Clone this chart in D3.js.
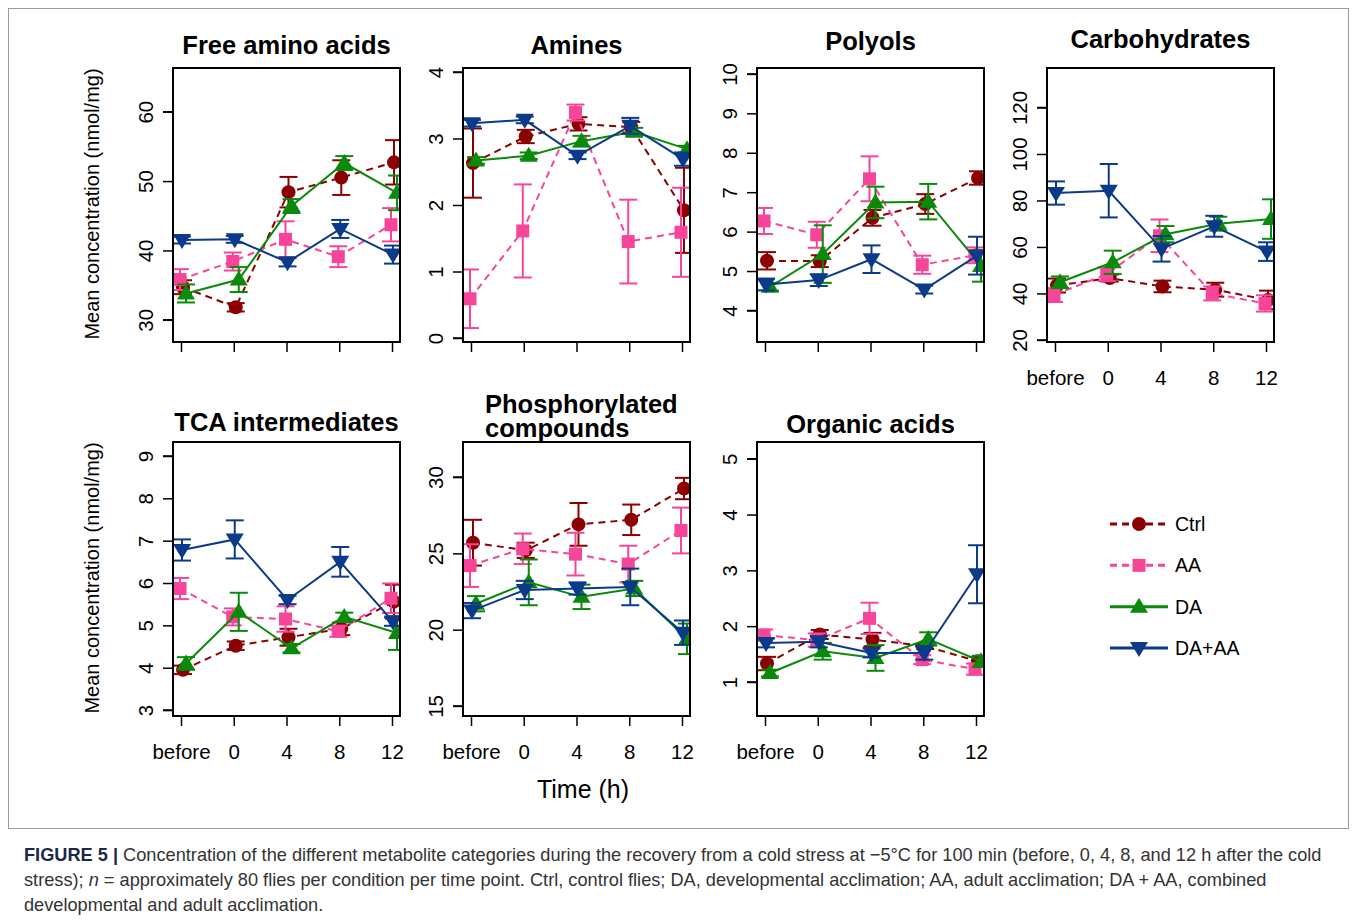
<!DOCTYPE html>
<html><head><meta charset="utf-8">
<script src="https://cdn.jsdelivr.net/npm/d3@7"></script>
<style>body{margin:0;background:#fff;font-family:"Liberation Sans",Arial,sans-serif;}</style>
</head><body><svg id="fig" width="1357" height="922"></svg>
<script>
const timePoints = ['before', '0', '4', '8', '12'];
const groups = ['Ctrl', 'AA', 'DA', 'DA+AA'];
const groupColors = ['#8b0000', '#f7459a', '#0a8a0a', '#0b3a8a'];

// mean values per group (Ctrl, AA, DA, DA+AA), then error half-widths
const aminoMean = [[34.7, 31.8, 48.4, 50.5, 52.7], [35.8, 38.4, 41.6, 39.1, 43.7], [33.8, 35.8, 46.4, 52.6, 48.3], [41.5, 41.6, 38.3, 43.1, 39.4]];
const aminoErr = [[1, 0.6, 2.2, 2.5, 3.2], [1.5, 1.3, 2.6, 1.5, 2.4], [1.3, 1.8, 1, 1, 2.5], [0.5, 0.5, 0.6, 1.3, 1.3]];
const amineMean = [[2.63, 3.03, 3.22, 3.17, 1.92], [0.59, 1.61, 3.39, 1.45, 1.59], [2.67, 2.74, 2.96, 3.1, 2.84], [3.23, 3.28, 2.74, 3.19, 2.69]];
const amineErr = [[0.52, 0.1, 0.1, 0.08, 0.64], [0.44, 0.7, 0.12, 0.63, 0.67], [0.05, 0.05, 0.08, 0.06, 0.05], [0.05, 0.05, 0.05, 0.12, 0.1]];
const polyolMean = [[5.26, 5.25, 6.35, 6.7, 7.36], [6.27, 5.92, 7.34, 5.16, 5.4], [4.6, 5.43, 6.74, 6.76, 5.13], [4.66, 4.77, 5.3, 4.53, 5.39]];
const polyolErr = [[0.22, 0.15, 0.2, 0.25, 0.17], [0.33, 0.33, 0.57, 0.23, 0.2], [0.1, 0.73, 0.4, 0.45, 0.4], [0.15, 0.15, 0.35, 0.1, 0.48]];
const carbMean = [[43.4, 46.6, 43, 41.6, 37.2], [39.3, 48.3, 64.8, 40, 35.7], [44.8, 53.4, 65.5, 70, 72], [83.2, 84.2, 59.2, 68.9, 58]];
const carbErr = [[3, 1.5, 2.5, 3, 4], [3, 3, 7, 3, 3.5], [2.5, 5, 3.5, 3, 8.5], [5, 11.5, 5.5, 4.5, 4]];
const tcaMean = [[3.95, 4.52, 4.72, 4.92, 5.56], [5.87, 5.2, 5.15, 4.86, 5.64], [4.1, 5.32, 4.46, 5.2, 4.82], [6.78, 7.03, 5.6, 6.5, 5.09]];
const tcaErr = [[0.1, 0.1, 0.2, 0.15, 0.4], [0.25, 0.2, 0.3, 0.13, 0.35], [0.15, 0.45, 0.1, 0.1, 0.4], [0.25, 0.45, 0.1, 0.35, 0.1]];
const phosMean = [[25.7, 25.2, 26.9, 27.2, 29.25], [24.2, 25.3, 24.95, 24.3, 26.5], [21.7, 23.1, 22.15, 22.7, 19.4], [21.25, 22.6, 22.7, 22.8, 19.8]];
const phosErr = [[1.5, 0.5, 1.4, 1, 0.7], [1.4, 1, 1.4, 1.2, 1.5], [0.5, 1.5, 0.8, 0.5, 1], [0.5, 0.6, 0.4, 1.2, 0.8]];
const orgMean = [[1.33, 1.85, 1.76, 1.64, 1.37], [1.84, 1.75, 2.14, 1.4, 1.23], [1.16, 1.55, 1.43, 1.77, 1.37], [1.7, 1.72, 1.52, 1.52, 2.93]];
const orgErr = [[0.12, 0.08, 0.12, 0.05, 0.08], [0.1, 0.12, 0.28, 0.08, 0.1], [0.06, 0.15, 0.23, 0.12, 0.1], [0.08, 0.1, 0.08, 0.12, 0.52]];

const panels = [
  {title: ['Free amino acids'], mean: aminoMean, err: aminoErr, domain: [26.8, 66.3], ticks: [30, 40, 50, 60], x: 173, y: 68, ty: 46, xlab: false},
  {title: ['Amines'], mean: amineMean, err: amineErr, domain: [-0.06, 4.06], ticks: [0, 1, 2, 3, 4], x: 463, y: 68, ty: 46, xlab: false},
  {title: ['Polyols'], mean: polyolMean, err: polyolErr, domain: [3.2, 10.15], ticks: [4, 5, 6, 7, 8, 9, 10], x: 757, y: 68, ty: 42, xlab: false},
  {title: ['Carbohydrates'], mean: carbMean, err: carbErr, domain: [19.1, 137], ticks: [20, 40, 60, 80, 100, 120], x: 1047, y: 68, ty: 40, xlab: true},
  {title: ['TCA intermediates'], mean: tcaMean, err: tcaErr, domain: [2.86, 9.33], ticks: [3, 4, 5, 6, 7, 8, 9], x: 173, y: 442, ty: 423, xlab: true},
  {title: ['Phosphorylated', 'compounds'], mean: phosMean, err: phosErr, domain: [14.34, 32.3], ticks: [15, 20, 25, 30], x: 463, y: 442, ty: 405, xlab: true},
  {title: ['Organic acids'], mean: orgMean, err: orgErr, domain: [0.39, 5.3], ticks: [1, 2, 3, 4, 5], x: 757, y: 442, ty: 425, xlab: true}
];

const W = 227, H = 274;
const dodge = [2, -1, 5, 1];
const dashes = ['7,5', '7,5', null, null];
const svg = d3.select('#fig');
const font = '"Liberation Sans", Arial, sans-serif';

svg.append('rect').attr('x', 8.5).attr('y', 8.5).attr('width', 1340).attr('height', 820)
  .attr('fill', 'none').attr('stroke', '#9a9a9a').attr('stroke-width', 1);

function marker(g, i, cx, cy, col) {
  const s = 8;
  if (i === 0) g.append('circle').attr('cx', cx).attr('cy', cy).attr('r', 7).attr('fill', col);
  else if (i === 1) g.append('rect').attr('x', cx - 6.5).attr('y', cy - 6.5).attr('width', 13).attr('height', 13).attr('fill', col);
  else if (i === 2) g.append('path').attr('d', `M${cx},${cy - s - 1}L${cx + s + 1},${cy + s - 2}L${cx - s - 1},${cy + s - 2}Z`).attr('fill', col);
  else g.append('path').attr('d', `M${cx},${cy + s + 1}L${cx + s + 1},${cy - s + 2}L${cx - s - 1},${cy - s + 2}Z`).attr('fill', col);
}

panels.forEach((p, pi) => {
  const g = svg.append('g').attr('transform', `translate(${p.x},${p.y})`);
  const x = d3.scalePoint().domain(timePoints).range([8, W - 8]);
  const y = d3.scaleLinear().domain(p.domain).range([H, 0]);
  const clipId = 'clip' + pi;
  g.append('clipPath').attr('id', clipId).append('rect').attr('width', W).attr('height', H);
  const plot = g.append('g').attr('clip-path', `url(#${clipId})`);

  groups.forEach((name, gi) => {
    const col = groupColors[gi];
    const pts = timePoints.map((t, ti) => ({cx: x(t) + dodge[gi], m: p.mean[gi][ti], e: p.err[gi][ti]}));
    const eb = plot.append('g').attr('stroke', col).attr('stroke-width', 2);
    pts.forEach(d => {
      eb.append('line').attr('x1', d.cx).attr('x2', d.cx).attr('y1', y(d.m - d.e)).attr('y2', y(d.m + d.e));
      [d.m - d.e, d.m + d.e].forEach(v => eb.append('line').attr('x1', d.cx - 9).attr('x2', d.cx + 9).attr('y1', y(v)).attr('y2', y(v)));
    });
    plot.append('path').datum(pts)
      .attr('d', d3.line().x(d => d.cx).y(d => y(d.m)))
      .attr('fill', 'none').attr('stroke', col).attr('stroke-width', 2)
      .attr('stroke-dasharray', dashes[gi]);
    pts.forEach(d => marker(plot, gi, d.cx, y(d.m), col));
  });

  g.append('rect').attr('width', W).attr('height', H).attr('fill', 'none').attr('stroke', '#000').attr('stroke-width', 2);

  const ya = g.append('g').call(d3.axisLeft(y).tickValues(p.ticks).tickFormat(d3.format('d')).tickSize(10).tickSizeOuter(0));
  ya.select('.domain').attr('stroke-width', 1.5).attr('d', `M-10,${y(p.ticks[0])}H0V${y(p.ticks[p.ticks.length - 1])}H-10`);
  ya.selectAll('.tick line').attr('stroke-width', 1.5);
  ya.selectAll('.tick text').attr('font-family', font).attr('font-size', 20.5).attr('fill', '#000')
    .attr('text-anchor', 'middle').attr('x', 0).attr('dy', 0);
  ya.selectAll('.tick text').each(function() {
    const t = d3.select(this.parentNode).attr('transform');
    const ty = +t.match(/,([-\d.]+)/)[1];
    d3.select(this.parentNode).attr('transform', null);
    d3.select(this.parentNode).select('line').attr('transform', `translate(0,${ty})`);
    d3.select(this).attr('transform', `translate(-20,${ty}) rotate(-90)`).attr('y', 0);
  });

  const xa = g.append('g').attr('transform', `translate(0,${H})`)
    .call(d3.axisBottom(x).tickSize(10).tickSizeOuter(0));
  xa.select('.domain').remove();
  xa.selectAll('.tick line').attr('stroke-width', 1.5);
  xa.selectAll('.tick text').attr('font-family', font).attr('font-size', 20.5).attr('fill', '#000')
    .attr('y', 28).text(d => p.xlab ? d : '');

  p.title.forEach((line, li) => {
    svg.append('text').attr('x', p.title.length > 1 ? p.x + 22 : p.x + W / 2)
      .attr('y', p.ty + li * 24 + 8).attr('text-anchor', p.title.length > 1 ? 'start' : 'middle')
      .attr('font-family', font).attr('font-weight', 'bold').attr('font-size', 25.5).text(line);
  });
});

[204, 578].forEach(cy => {
  svg.append('text').attr('transform', `translate(99,${cy}) rotate(-90)`).attr('text-anchor', 'middle')
    .attr('font-family', font).attr('font-size', 20).text('Mean concentration (nmol/mg)');
});
svg.append('text').attr('x', 583).attr('y', 798).attr('text-anchor', 'middle')
  .attr('font-family', font).attr('font-size', 25).text('Time (h)');

// legend
const legY = d3.scalePoint().domain(groups).range([524, 648]);
groups.forEach((name, gi) => {
  const col = groupColors[gi];
  const ly = legY(name);
  svg.append('line').attr('x1', 1110).attr('x2', 1168).attr('y1', ly).attr('y2', ly)
    .attr('stroke', col).attr('stroke-width', 3).attr('stroke-dasharray', dashes[gi]);
  marker(svg, gi, 1139, ly, col);
  svg.append('text').attr('x', 1175).attr('y', ly + 7).attr('font-family', font).attr('font-size', 19.5).text(name);
});

// caption
const cap = svg.append('g').attr('font-family', font).attr('font-size', 18.2).attr('fill', '#333');
const l1 = cap.append('text').attr('x', 24).attr('y', 861);
l1.append('tspan').attr('font-weight', 'bold').attr('fill', '#1a2a4a').text('FIGURE 5 | ');
l1.append('tspan').text('Concentration of the different metabolite categories during the recovery from a cold stress at \u22125\u00b0C for 100 min (before, 0, 4, 8, and 12 h after the cold');
const l2 = cap.append('text').attr('x', 24).attr('y', 886);
l2.append('tspan').text('stress); ');
l2.append('tspan').attr('font-style', 'italic').text('n');
l2.append('tspan').text(' = approximately 80 flies per condition per time point. Ctrl, control flies; DA, developmental acclimation; AA, adult acclimation; DA + AA, combined');
cap.append('text').attr('x', 24).attr('y', 911).text('developmental and adult acclimation.');
</script></body></html>
